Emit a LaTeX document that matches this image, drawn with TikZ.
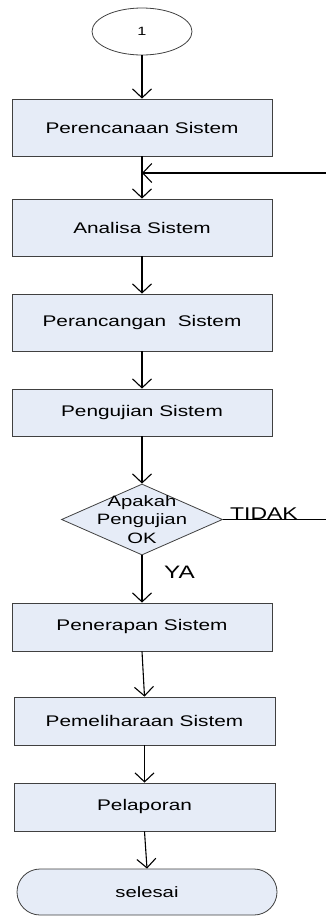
\documentclass[tikz,border=0pt]{standalone}
\usepackage{fontspec}
\setmainfont{Liberation Sans}[FakeStretch=1.35]
\usetikzlibrary{shapes.geometric,arrows.meta}

\definecolor{isi}{RGB}{230,236,247}
\definecolor{tepi}{RGB}{64,64,64}

\tikzset{
        proses/.style = {draw=tepi, fill=isi, line width=0.8pt, inner sep=0pt,
            minimum width=260pt, minimum height=57pt, font=\fontsize{15.4}{18}\selectfont},
        keputusan/.style = {diamond, draw=tepi, fill=isi, line width=0.8pt, inner sep=0pt,
            minimum width=161pt, minimum height=71pt},
        terminal/.style = {draw=tepi, fill=isi, line width=0.8pt, inner sep=0pt, rounded corners=23pt,
            minimum width=260pt, minimum height=46pt, font=\fontsize{15}{18}\selectfont},
        konektor/.style = {ellipse, draw=tepi, line width=0.8pt, inner sep=0pt,
            minimum width=100pt, minimum height=47pt, font=\fontsize{12}{14}\selectfont},
        panah/.style = {line width=1.1pt, -{Straight Barb[length=9pt,width=19pt]}},
        garis/.style = {line width=1.1pt}
    }

\begin{document}
\begin{tikzpicture}[x=1pt,y=-1pt]
            \useasboundingbox (0,0) rectangle (326,916);

            \node[konektor] (satu) at (142,31.5) {1};
            \node[proses] (rencana) at (142,127.5) {Perencanaan Sistem};
            \node[proses] (analisa) at (142,227.5) {Analisa Sistem};
            \node[proses] (rancang) at (142,322.5) {Perancangan\ \ Sistem};
            \node[proses, minimum height=47pt] (uji) at (142,412.5) {Pengujian Sistem};
            \node[keputusan] (cek) at (142,519.5) {};
            \node[align=center, inner sep=0pt, font=\fontsize{15}{18.5}\selectfont] (tanya) at (cek) {Apakah\\Pengujian\\OK};
            \node[proses, minimum height=48pt] (terap) at (142,627) {Penerapan Sistem};
            \node[proses, minimum width=261pt, minimum height=48pt] (pelihara) at (144.5,721) {Pemeliharaan Sistem};
            \node[proses, minimum width=261pt, minimum height=48pt] (lapor) at (144.5,807) {Pelaporan};
            \node[terminal] (selesai) at (147,892) {selesai};

            \coordinate (balik) at (326,173);

            \foreach \a/\b in {satu/rencana,rencana/analisa,analisa/rancang,rancang/uji,uji/cek,cek/terap,terap/pelihara,pelihara/lapor,lapor/selesai} {
                \draw[panah] (\a.south) -- (\b.north);
            };

            \draw[panah] (balik) -- (rencana.south |- balik);
            \draw[garis] (cek.east) -- (cek.east -| balik);
            \node[anchor=base west, inner sep=0pt, font=\fontsize{17}{20}\selectfont] (tidak) at (230,519.5) {TIDAK};
            \node[anchor=base west, inner sep=0pt, font=\fontsize{18}{21}\selectfont] (ya) at (164,578.3) {YA};

        \end{tikzpicture}
\end{document}
